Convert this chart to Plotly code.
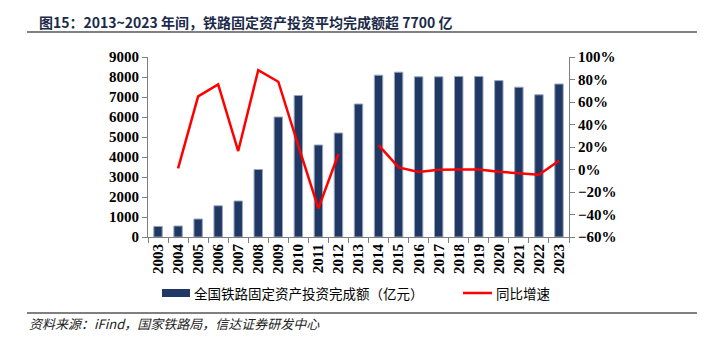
import plotly.graph_objects as go

years = [str(y) for y in range(2003, 2024)]
invest = [530, 550, 900, 1560, 1800, 3375, 6000, 7075, 4600, 5200, 6650,
          8090, 8240, 8010, 8010, 8030, 8030, 7820, 7490, 7110, 7650]
growth = [None, 1.0, 65.0, 75.7, 16.4, 88.4, 78.0, 21.0, -34.5, 13.8, None,
          21.7, 1.9, -2.2, -0.3, 0.1, 0.0, -2.0, -3.6, -4.6, 7.8]

title_text = "图15：2013~2023 年间，铁路固定资产投资平均完成额超 7700 亿"
bar_name = "全国铁路固定资产投资完成额（亿元）"
line_name = "同比增速"
source_text = "资料来源：iFind，国家铁路局，信达证券研发中心"

W, H = 716, 337
L, R, T, B = 148, 569, 57, 237


def px(x):
    return (x - L) / (R - L)


def py(y):
    return (B - y) / (B - T)


bar_color = "#1F3864"
line_color = "#FF0000"
axis_color = "#7F7F7F"
tick_font = dict(family="Liberation Serif", size=15, color="#000000", weight="bold")

fig = go.Figure()
fig.add_trace(go.Bar(
    x=years, y=invest, name=bar_name,
    marker=dict(color=bar_color, line=dict(color="#9AA6BC", width=1)),
    showlegend=False,
))
fig.add_trace(go.Scatter(
    x=years, y=growth, name=line_name, yaxis="y2", mode="lines",
    line=dict(color=line_color, width=2.5), connectgaps=False,
    showlegend=False,
))

fig.update_layout(
    width=W, height=H,
    margin=dict(l=L, r=W - R, t=T, b=H - B),
    paper_bgcolor="white", plot_bgcolor="white",
    bargap=0.58,
    xaxis=dict(
        type="category", tickangle=-90, tickfont=tick_font,
        showline=True, linecolor=axis_color, linewidth=1,
        ticks="outside", tickson="boundaries", ticklen=5, tickcolor=axis_color,
        showgrid=False,
    ),
    yaxis=dict(
        range=[0, 9000], dtick=1000, tickfont=tick_font,
        showline=True, linecolor=axis_color, linewidth=1,
        ticks="outside", ticklen=5, tickcolor=axis_color,
        showgrid=False, zeroline=False,
    ),
    yaxis2=dict(
        overlaying="y", side="right", range=[-60, 100], dtick=20,
        ticksuffix="%", tickfont=tick_font,
        showline=True, linecolor=axis_color, linewidth=1,
        ticks="outside", ticklen=5, tickcolor=axis_color,
        showgrid=False, zeroline=False,
    ),
    font=dict(family="Noto Sans CJK SC"),
)

# Title and separator lines
fig.add_annotation(
    text=title_text, xref="paper", yref="paper",
    x=px(37), y=py(22), xanchor="left", yanchor="middle", showarrow=False,
    font=dict(family="Noto Sans CJK SC", size=14, color="#1B2A48", weight="bold"),
)
fig.add_shape(type="line", xref="paper", yref="paper",
              x0=px(27), x1=px(697), y0=py(32), y1=py(32),
              line=dict(color="#808080", width=2))
fig.add_shape(type="line", xref="paper", yref="paper",
              x0=px(27), x1=px(697), y0=py(313), y1=py(313),
              line=dict(color="#808080", width=2))

# Custom legend
fig.add_shape(type="rect", xref="paper", yref="paper",
              x0=px(162), x1=px(190), y0=py(297), y1=py(289),
              fillcolor=bar_color, line=dict(width=0))
fig.add_annotation(
    text=bar_name, xref="paper", yref="paper",
    x=px(192), y=py(293), xanchor="left", yanchor="middle", showarrow=False,
    font=dict(family="Noto Sans CJK SC", size=13.5, color="#000000"),
)
fig.add_shape(type="line", xref="paper", yref="paper",
              x0=px(463), x1=px(492), y0=py(293), y1=py(293),
              line=dict(color=line_color, width=2.5))
fig.add_annotation(
    text=line_name, xref="paper", yref="paper",
    x=px(494), y=py(293), xanchor="left", yanchor="middle", showarrow=False,
    font=dict(family="Noto Sans CJK SC", size=13.5, color="#000000"),
)

# Source
fig.add_annotation(
    text="<i>" + source_text + "</i>", xref="paper", yref="paper",
    x=px(27), y=py(323), xanchor="left", yanchor="middle", showarrow=False,
    font=dict(family="Noto Sans CJK SC", size=13, color="#222222"),
)

fig.write_html("out.html")
